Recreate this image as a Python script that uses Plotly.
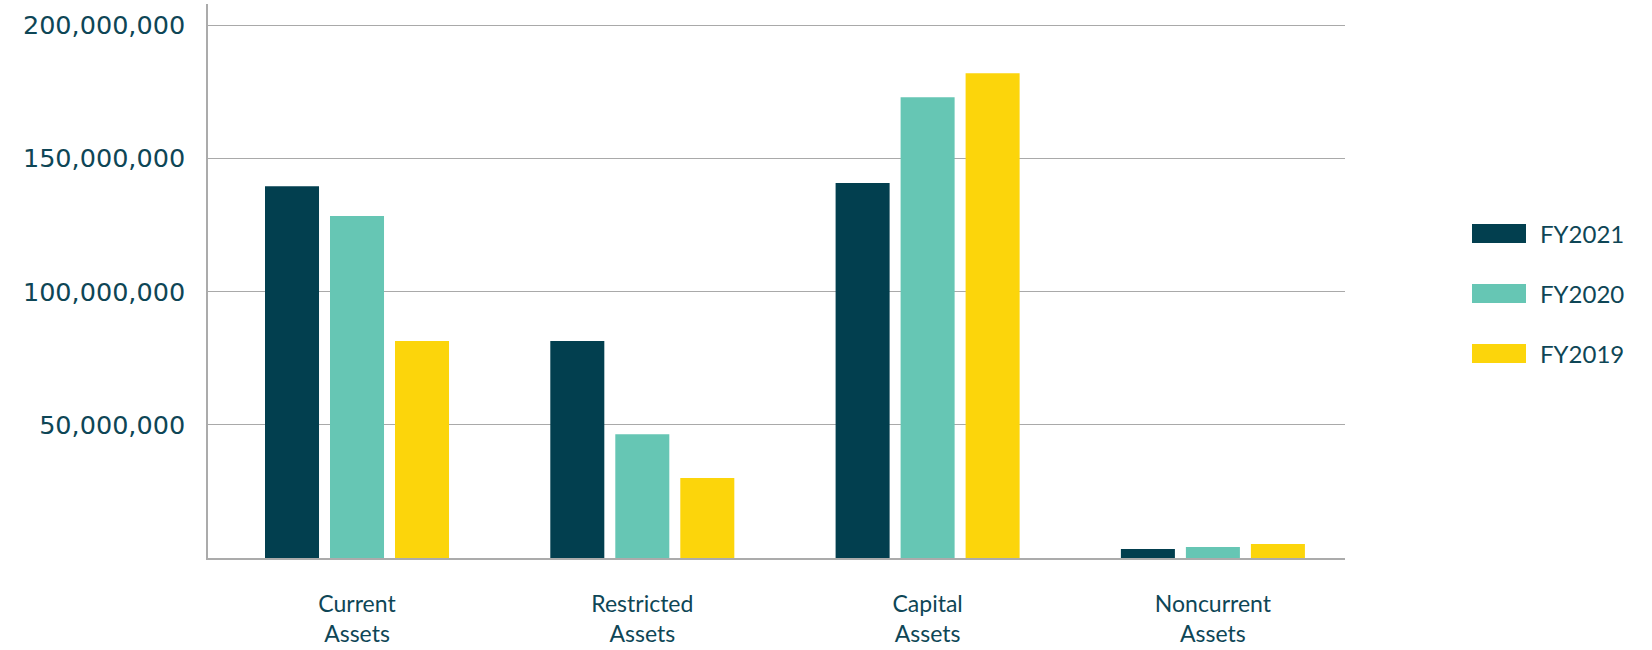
import plotly.graph_objects as go

categories = ["Current<br>Assets", "Restricted<br>Assets", "Capital<br>Assets", "Noncurrent<br>Assets"]
series_names = ["FY2021", "FY2020", "FY2019"]
fy2021 = [139.6e6, 81.5e6, 140.8e6, 3.4e6]
fy2020 = [128.4e6, 46.5e6, 173.0e6, 4.1e6]
fy2019 = [81.5e6, 30.0e6, 182.0e6, 5.3e6]
y_tickvals = [50e6, 100e6, 150e6, 200e6]
y_ticktext = ["50,000,000", "100,000,000", "150,000,000", "200,000,000"]

colors = ["#023f4f", "#66c6b4", "#fcd50b"]
text_color = "#0e4656"

fig = go.Figure()
for name, vals, col in zip(series_names, [fy2021, fy2020, fy2019], colors):
    fig.add_trace(go.Bar(x=list(range(len(categories))), y=vals, name=name,
                         marker=dict(color=col, line=dict(width=0)), showlegend=False))

W, H = 1652, 650
L, R, T, B = 208, 1345, 4, 558
pw, ph = R - L, B - T

def px(x):
    return (x - L) / pw

def py(y):
    return (B - y) / ph

shapes = []
annotations = []
for i, (name, col) in enumerate(zip(series_names, colors)):
    cy = 233.5 + 60 * i
    shapes.append(dict(type="rect", xref="paper", yref="paper",
                       x0=px(1472), x1=px(1526), y0=py(cy + 9.5), y1=py(cy - 9.5),
                       fillcolor=col, line=dict(width=0)))
    annotations.append(dict(xref="paper", yref="paper", x=px(1538), y=py(cy),
                            text=name, showarrow=False, xanchor="left", yanchor="middle",
                            font=dict(family="Lato", size=24, color=text_color)))

fig.update_layout(
    width=W, height=H,
    margin=dict(l=L, r=W - R, t=T, b=H - B, pad=0),
    paper_bgcolor="white", plot_bgcolor="white",
    barmode="group", bargap=0.3165, bargroupgap=0.169,
    shapes=shapes, annotations=annotations,
    xaxis=dict(
        tickmode="array", tickvals=list(range(len(categories))), ticktext=categories,
        range=[-0.5223, 3.463], showgrid=False, zeroline=False,
        showline=True, linecolor="#ababab", linewidth=2,
        ticks="", ticklabelstandoff=24,
        tickfont=dict(family="Lato", size=23, color=text_color),
    ),
    yaxis=dict(
        range=[0, 208e6], tickmode="array", tickvals=y_tickvals, ticktext=y_ticktext,
        showgrid=True, gridcolor="#a9a9a9", gridwidth=1, zeroline=False,
        showline=True, linecolor="#ababab", linewidth=1.5,
        ticks="", ticklabelstandoff=16,
        tickfont=dict(family="DejaVu Sans", size=25.5, color=text_color),
    ),
)

fig.write_html("out.html")
